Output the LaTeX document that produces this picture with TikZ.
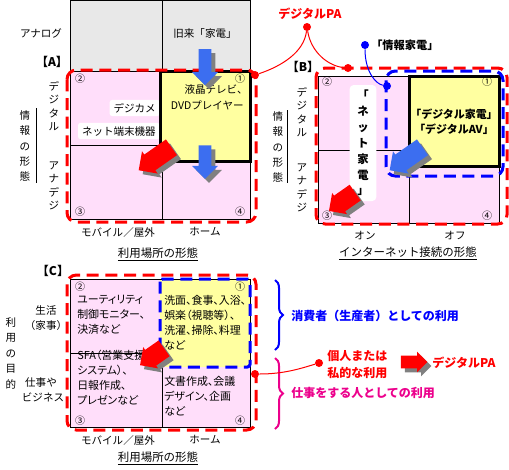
\documentclass[tikz,border=0pt]{standalone}
\usepackage{fontspec}
\setmainfont{Noto Sans CJK JP}
\newfontfamily\jpp[RawFeature=+palt]{Noto Sans CJK JP}
\usetikzlibrary{shapes.arrows,decorations.pathreplacing}
\definecolor{pinkq}{RGB}{255,222,250}
\definecolor{yellowq}{RGB}{255,255,160}
\definecolor{grayq}{RGB}{232,232,232}
\definecolor{shadowq}{RGB}{128,128,128}
\definecolor{arrblue}{RGB}{60,110,240}
\newcommand\barr[8]{%
  \node[single arrow, fill=shadowq, rotate=#4, minimum height=#5, inner sep=#7, single arrow head extend=#8] at (#2+4,#3+4) {};
  \node[single arrow, fill=#6, rotate=#4, minimum height=#5, inner sep=#7, single arrow head extend=#8] (#1) at (#2,#3) {};
}
\begin{document}
\begin{tikzpicture}[x=0.75pt,y=-0.75pt,
  every node/.style={inner sep=0pt},
  txt/.style={font=\fontsize{7.9}{10}\selectfont},
  btxt/.style={font=\fontsize{9}{11}\selectfont\bfseries},
  ultxt/.style={font=\fontsize{8.6}{10}\selectfont},
  num/.style={font=\fontsize{7.5}{9}\selectfont},
  vtxt/.style={align=center, font=\fontsize{7.9}{10.1}\selectfont},
  vtxtb/.style={align=center, font=\fontsize{7.9}{11.3}\selectfont},
  qtxt/.style={anchor=north west, align=left, font=\jpp\fontsize{8.2}{11.3}\selectfont},
  gridline/.style={draw=black, line width=0.75pt},
  ybox/.style={draw=black, line width=2.25pt, fill=yellowq},
  rdash/.style={draw=red, line width=2.25pt, dash pattern=on 9pt off 5pt, rounded corners=7pt},
  bdash/.style={draw=blue, line width=2.25pt, dash pattern=on 9pt off 5pt, rounded corners=7pt},
  rdot/.style={circle, fill=red, minimum size=6pt},
  bdot/.style={circle, fill=blue, minimum size=6pt},
  wbox/.style={fill=white, rounded corners=2pt, inner xsep=3pt, inner ysep=2.5pt, font=\fontsize{7.9}{10}\selectfont},
  thinred/.style={draw=red, line width=0.75pt},
  thinblue/.style={draw=blue, line width=0.75pt},
]
\useasboundingbox (0,0) rectangle (509,469);

% ================= Panel A =================
\fill[grayq] (70,0.5) rectangle (250,71);
\draw[gridline] (70,0.5) rectangle (250,71);
\draw[gridline] (162,0.5) -- (162,71);
\fill[pinkq] (70,71) rectangle (250,219);
\draw[gridline] (70,71) rectangle (250,219);
\draw[gridline] (70,145) -- (160,145);
\draw[gridline] (162,161) -- (162,219);
\node[wbox, anchor=east] (dcam) at (160,108) {デジカメ};
\node[wbox, anchor=east] (nett) at (160,131) {ネット端末機器};
\draw[ybox] (160,71) rectangle (250,161);
\node[txt, anchor=east] (lcd) at (248,89) {液晶テレビ、};
\node[txt, anchor=east] (dvd) at (244,105) {DVDプレイヤー};
\node[txt] (analog) at (41,33) {アナログ};
\node[txt] (kyurai) at (205,33) {旧来「家電」};
\node[btxt] (labA) at (52,62) {【A】};
\node[vtxt] (digA) at (54,106) {デ\\ジ\\タ\\ル};
\node[vtxt] (anaA) at (54,186) {ア\\ナ\\デ\\ジ};
\node[vtxtb] (joA) at (25,146) {情\\報\\の\\形\\態};
\draw[gridline] (36,108) -- (36,183);
\node[num] at (80,79) {②};
\node[num] at (240,79) {①};
\node[num] at (80,212) {③};
\node[num] at (240,212) {④};
\node[txt] (mobA) at (118,232) {モバイル／屋外};
\node[txt] (homeA) at (205,232) {ホーム};
\node[ultxt] (placeA) at (158,254) {\underline{利用場所の形態}};
\draw[rdash] (67,70) rectangle (256,222);
\barr{ba1}{205}{64}{-90}{27pt}{arrblue}{4.5pt}{5pt}
\barr{ba2}{205}{159}{-90}{25pt}{arrblue}{4.5pt}{5pt}
\barr{ra1}{159}{156}{215}{30pt}{red}{7pt}{3pt}
\node[rdot] (dA) at (255,75) {};

% ================= Panel B =================
\fill[pinkq] (318,76) rectangle (499,223);
\draw[gridline] (318,76) rectangle (499,223);
\draw[gridline] (318,150) -- (409,150);
\draw[gridline] (409,166) -- (409,223);
\draw[ybox] (409,76) rectangle (499,166);
\node[btxt, font=\fontsize{8.2}{10}\selectfont\bfseries] (dk) at (454,114) {「デジタル家電」};
\node[btxt, font=\fontsize{8.2}{10}\selectfont\bfseries] (dav) at (454,129) {「デジタルAV」};
\node[fill=white, rounded corners=3pt, minimum width=20pt, minimum height=87pt] (nkbox) at (363,143) {};
\node[align=center, font=\fontsize{8.5}{11.9}\selectfont\bfseries] (nk) at (363,143) {「\\ネ\\ッ\\ト\\家\\電\\」};
\node[btxt] (labB) at (303,67) {【B】};
\node[vtxt] (digB) at (302,112) {デ\\ジ\\タ\\ル};
\node[vtxt] (anaB) at (302,188) {ア\\ナ\\デ\\ジ};
\node[vtxtb] (joB) at (278,147) {情\\報\\の\\形\\態};
\draw[gridline] (287,110) -- (287,183);
\node[num] at (327,82) {②};
\node[num] at (487,82) {①};
\node[num] at (327,216) {③};
\node[num] at (487,216) {④};
\node[txt] (on) at (365,236) {オン};
\node[txt] (off) at (455,236) {オフ};
\node[ultxt] (inet) at (408,253) {\underline{インターネット接続の形態}};
\draw[rdash] (316,68) rectangle (507,224);
\draw[bdash] (386,71) rectangle (503,176);
\barr{bb1}{410}{156}{215}{30pt}{arrblue}{7pt}{3pt}
\barr{rb1}{346}{199}{215}{24pt}{red}{7pt}{2.5pt}
\node[rdot] (dB) at (348,68) {};

% top labels
\node[rdot] (pa) at (307,27) {};
\node[btxt, red] (paText) at (310,14) {デジタルPA};
\draw[thinred] (pa) .. controls (304,52) and (282,66) .. (dA);
\draw[thinred] (pa) .. controls (311,52) and (328,66) .. (dB);
\node[bdot] (jk) at (365,45) {};
\node[btxt, anchor=west, font=\fontsize{8.4}{10}\selectfont\bfseries] (jkText) at (371,45) {「情報家電」};
\node[bdot] (jk2) at (387,86) {};
\draw[thinblue] (jk) .. controls (365,72) and (376,84) .. (jk2);

% ================= Panel C =================
\fill[pinkq] (70,279) rectangle (250,427);
\fill[yellowq] (160,279) rectangle (250,367);
\draw[gridline] (70,279) rectangle (250,427);
\draw[gridline] (70,353) -- (160,353);
\draw[gridline] (162,367) -- (162,427);
\node[qtxt] (q2) at (77,295) {ユーティリティ\\制御モニター、\\決済など};
\node[qtxt] (q1) at (164,295) {洗面、食事、入浴、\\娯楽（視聴等）、\\洗濯、掃除、料理\\など};
\node[qtxt] (q3) at (77,350) {SFA（営業支援\\システム）、\\日報作成、\\プレゼンなど};
\node[qtxt] (q4) at (164,376) {文書作成、会議\\デザイン、企画\\など};
\node[num] at (80,287) {②};
\node[num] at (240,287) {①};
\node[num] at (80,421) {③};
\node[num] at (240,421) {④};
\node[btxt] (labC) at (53,271) {【C】};
\node[txt] (life) at (46,310) {生活};
\node[txt] (kaji) at (46,325) {（家事）};
\node[txt] (work) at (41,382) {仕事や};
\node[txt] (biz) at (43,397) {ビジネス};
\node[align=center, font=\fontsize{7.9}{11.6}\selectfont] (purpose) at (11,353) {利\\用\\の\\目\\的};
\node[txt] (mobC) at (118,440) {モバイル／屋外};
\node[txt] (homeC) at (205,440) {ホーム};
\node[ultxt] (placeC) at (158,458) {\underline{利用場所の形態}};
\draw[bdash, rounded corners=2pt] (160,279) rectangle (250,367);
\draw[rdash] (67,275) rectangle (256,430);
\barr{rc1}{156}{354}{215}{22pt}{red}{7pt}{2.5pt}
\node[rdot] (dC) at (255,374) {};

% right side
\draw[blue, line width=1.5pt, decorate, decoration={brace, amplitude=6pt}] (275,280) -- (275,350);
\draw[magenta, line width=1.5pt, decorate, decoration={brace, amplitude=6pt}] (275,358) -- (275,429);
\node[btxt, blue, anchor=west] (cons) at (291,316) {消費者（生産者）としての利用};
\node[btxt, magenta, anchor=west] (wrk) at (291,393) {仕事をする人としての利用};
\node[rdot] (dD) at (319,363) {};
\draw[thinred] (dC) .. controls (285,374) and (302,368) .. (dD);
\node[btxt, red, anchor=west] (priv1) at (327,356) {個人または};
\node[btxt, red, anchor=west] (priv2) at (327,373) {私的な利用};
\barr{ra2}{411}{362}{0}{20pt}{red}{4.5pt}{3pt}
\node[btxt, red, anchor=west] (pa2) at (432,363) {デジタルPA};
\end{tikzpicture}
\end{document}
